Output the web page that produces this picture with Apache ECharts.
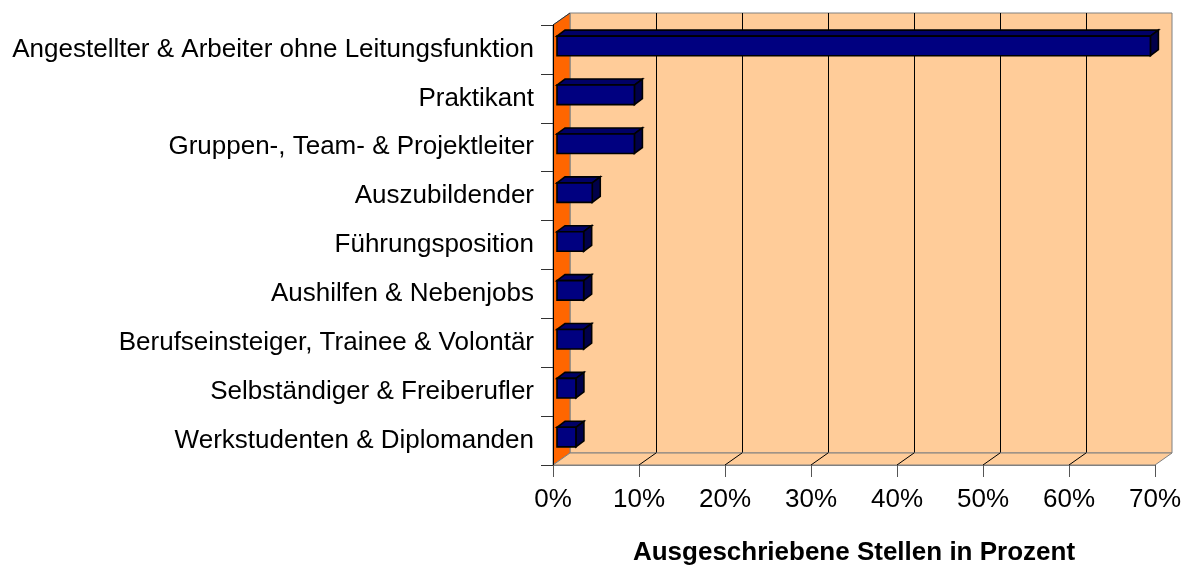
<!DOCTYPE html>
<html>
<head>
<meta charset="utf-8">
<title>Ausgeschriebene Stellen</title>
<script src="https://cdn.jsdelivr.net/npm/echarts@6/dist/echarts.min.js"></script>
<style>
  html, body { margin: 0; padding: 0; background: #fff; }
  #chart { width: 1183px; height: 565px; }
</style>
</head>
<body>
<div id="chart"></div>
<script>
// Daten
const categories = [
  'Angestellter & Arbeiter ohne Leitungsfunktion',
  'Praktikant',
  'Gruppen-, Team- & Projektleiter',
  'Auszubildender',
  'Führungsposition',
  'Aushilfen & Nebenjobs',
  'Berufseinsteiger, Trainee & Volontär',
  'Selbständiger & Freiberufler',
  'Werkstudenten & Diplomanden'
];
const shares = [69.0, 9.0, 9.0, 4.1, 3.1, 3.1, 3.1, 2.2, 2.2];
const xTicks = [0, 10, 20, 30, 40, 50, 60, 70];
const axisTitle = 'Ausgeschriebene Stellen in Prozent';

const FONT = '"Liberation Sans", Arial, sans-serif';
// Tiefe des 3D-Rahmens (Rückwand gegenüber Vorderkante)
const DX = 17, DY = -12;
// Balken: Versatz der Vorderfläche und Tiefe
const BFX = 4, BFY = -3.5, BDX = 8, BDY = -6;

const chart = echarts.init(document.getElementById('chart'), null, { renderer: 'canvas' });

function renderFrame(params, api) {
  const cs = params.coordSys;
  const x0 = cs.x, y0 = cs.y, x1 = cs.x + cs.width, y1 = cs.y + cs.height;
  return {
    type: 'group',
    children: [
      {
        type: 'polygon',
        shape: { points: [[x0, y0], [x0 + DX, y0 + DY], [x0 + DX, y1 + DY], [x0, y1]] },
        style: { fill: '#FF6600', stroke: '#808080', lineWidth: 1 }
      },
      {
        type: 'line',
        shape: { x1: x0, y1: y0, x2: x0 + DX, y2: y0 + DY },
        style: { stroke: '#333', lineWidth: 1 }
      },
      {
        type: 'polygon',
        shape: { points: [[x0, y1], [x0 + DX, y1 + DY], [x1 + DX, y1 + DY], [x1, y1]] },
        style: { fill: '#FFCC99', stroke: '#808080', lineWidth: 1 }
      }
    ]
  };
}

function renderFloorLine(params, api) {
  const cs = params.coordSys;
  const yb = cs.y + cs.height;
  const p = api.coord([api.value(0), 0]);
  return {
    type: 'line',
    shape: { x1: p[0] + DX, y1: yb + DY, x2: p[0], y2: yb },
    style: { stroke: '#000', lineWidth: 1 }
  };
}

function renderBar(params, api) {
  const v = api.value(0);
  const c = api.value(1);
  const p0 = api.coord([0, c]);
  const p1 = api.coord([v, c]);
  const band = api.size([0, 1])[1];
  const h = band * 0.4;
  const xl = p0[0] + BFX, xr = p1[0] + BFX;
  const yt = p0[1] + BFY - h / 2, yb = yt + h;
  const line = { stroke: '#000', lineWidth: 1.6, lineJoin: 'miter' };
  return {
    type: 'group',
    children: [
      {
        type: 'polygon',
        shape: { points: [[xl, yt], [xl + BDX, yt + BDY], [xr + BDX, yt + BDY], [xr, yt]] },
        style: Object.assign({ fill: '#000066' }, line)
      },
      {
        type: 'polygon',
        shape: { points: [[xr, yt], [xr + BDX, yt + BDY], [xr + BDX, yb + BDY], [xr, yb]] },
        style: Object.assign({ fill: '#00004A' }, line)
      },
      {
        type: 'rect',
        shape: { x: xl, y: yt, width: xr - xl, height: h },
        style: Object.assign({ fill: '#000080' }, line)
      }
    ]
  };
}

const option = {
  backgroundColor: '#ffffff',
  animation: false,
  grid: [
    // Rückwand
    { left: 553 + DX, top: 25 + DY, width: 602, height: 440, show: true, outerBoundsMode: 'none',
      backgroundColor: '#FFCC99', borderColor: '#808080', borderWidth: 1 },
    // Vorderebene
    { left: 553, top: 25, width: 602, height: 440, outerBoundsMode: 'none' }
  ],
  xAxis: [
    {
      gridIndex: 0, type: 'value', min: 0, max: 70, interval: 10,
      axisLine: { show: false }, axisTick: { show: false }, axisLabel: { show: false },
      splitLine: { show: true, showMinLine: false, showMaxLine: false, lineStyle: { color: '#000', width: 1 } }
    },
    {
      gridIndex: 1, type: 'value', min: xTicks[0], max: xTicks[xTicks.length - 1], interval: 10, z: 5,
      axisLine: { show: true, lineStyle: { color: '#808080', width: 1 } },
      axisTick: { show: true, length: 12, lineStyle: { color: '#555' } },
      axisLabel: { formatter: '{value}%', fontSize: 26, color: '#000', fontFamily: FONT, margin: 22 },
      splitLine: { show: false },
      name: axisTitle, nameLocation: 'middle', nameGap: 75,
      nameTextStyle: { fontSize: 26, fontWeight: 'bold', color: '#000', fontFamily: FONT }
    }
  ],
  yAxis: [
    {
      gridIndex: 0, type: 'category', data: categories, inverse: true,
      axisLine: { show: false }, axisTick: { show: false }, axisLabel: { show: false },
      splitLine: { show: false }
    },
    {
      gridIndex: 1, type: 'category', data: categories, inverse: true, z: 5,
      axisLine: { show: true, lineStyle: { color: '#000', width: 1 } },
      axisTick: { show: true, length: 12, interval: 0, lineStyle: { color: '#333' } },
      axisLabel: { fontSize: 26, color: '#000', fontFamily: FONT, margin: 19, interval: 0,
        padding: [0, 0, 5, 0] }
    }
  ],
  series: [
    {
      name: 'Rahmen', type: 'custom', xAxisIndex: 1, yAxisIndex: 1, z: 1, clip: false,
      renderItem: renderFrame, data: [[0, 0]], silent: true
    },
    {
      name: 'Bodenlinien', type: 'custom', xAxisIndex: 1, yAxisIndex: 1, z: 1, clip: false,
      renderItem: renderFloorLine, data: xTicks.slice(1, -1).map(function (t) { return [t, 0]; }),
      silent: true
    },
    {
      name: 'Stellen', type: 'custom', xAxisIndex: 1, yAxisIndex: 1, z: 3, clip: false,
      renderItem: renderBar,
      encode: { x: 0, y: 1 },
      data: shares.map(function (v, i) { return [v, i]; })
    }
  ]
};

chart.setOption(option);
</script>
</body>
</html>
